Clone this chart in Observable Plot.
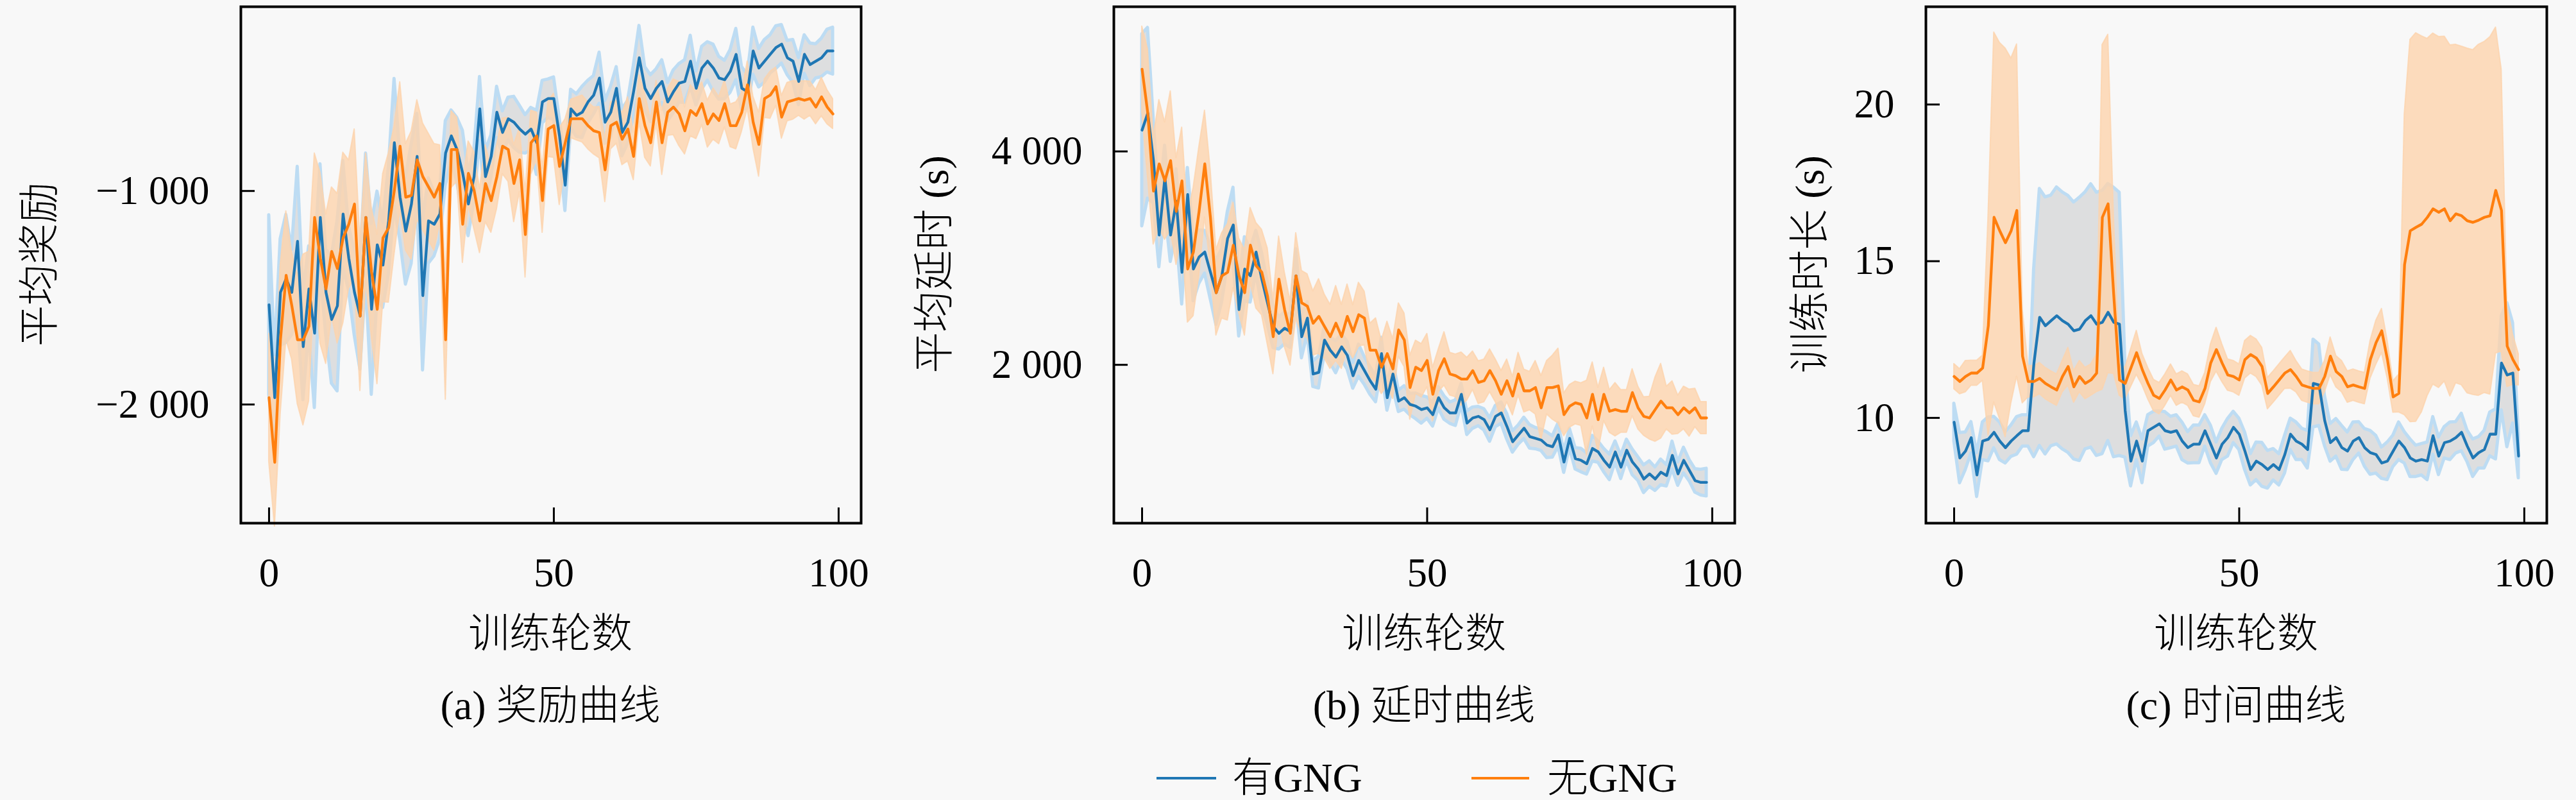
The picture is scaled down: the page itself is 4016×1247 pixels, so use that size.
<!DOCTYPE html>
<html>
<head>
<meta charset="utf-8">
<script src="https://cdn.jsdelivr.net/npm/d3@7"></script>
<script src="https://cdn.jsdelivr.net/npm/@observablehq/plot@0.6"></script>
<style>
  html, body { margin: 0; padding: 0; background: #f8f8f8; }
  #fig { position: relative; width: 4016px; height: 1247px; background: #f8f8f8; overflow: hidden;
         font-family: "Liberation Serif", "Noto Sans CJK SC", serif; color: #000; }
  .panel { position: absolute; top: 0; }
  .txt { position: absolute; white-space: nowrap; font-size: 64px; line-height: 1; font-weight: 300; }
  .c { transform: translate(-50%, -50%); }
  .rot { transform: translate(-50%, -50%) rotate(-90deg); }
  .l { transform: translateY(-50%); }
  .sw { position: absolute; height: 4px; }
</style>
</head>
<body>
<div id="fig"></div>
<script>
// ---------- data ----------
const episodes = d3.range(100);
const seriesNames = ["有GNG", "无GNG"];
const seriesColors = ["#1f77b4", "#ff7f0e"];
const xTicks = [0, 50, 100];
const xLabel = "训练轮数";
const yLabels = ["平均奖励", "平均延时 (s)", "训练时长 (s)"];
const captions = ["(a) 奖励曲线", "(b) 延时曲线", "(c) 时间曲线"];

// (a) reward
const rewardWith = [
-1533,-1968,-1475,-1411,-1475,-1236,-1729,-1459,-1666,-1124,
-1475,-1602,-1538,-1108,-1315,-1475,-1586,-1124,-1554,-1252,
-1347,-1140,-774,-1029,-1188,-1061,-838,-1490,-1140,-1156,
-1108,-822,-742,-806,-917,-1061,-933,-615,-933,-838,
-631,-726,-662,-678,-710,-734,-710,-774,-583,-567,
-567,-742,-973,-615,-646,-631,-583,-551,-471,-678,
-631,-519,-726,-678,-535,-376,-519,-567,-519,-487,
-583,-535,-495,-487,-392,-519,-424,-392,-424,-471,
-479,-439,-360,-519,-535,-344,-424,-392,-360,-328,
-312,-376,-392,-487,-360,-408,-392,-376,-344,-344];
const rewardWithSpread = [
420,200,250,300,200,350,250,200,350,250,
200,300,400,250,150,200,250,300,400,250,
200,250,300,200,250,280,200,350,200,150,
120,150,120,150,200,150,120,150,120,100,
120,100,100,120,110,90,100,150,100,90,
100,80,120,90,100,120,100,90,120,100,
120,100,110,100,120,150,100,110,90,100,
90,100,90,100,120,80,100,90,110,100,
90,100,120,100,80,110,90,100,90,100,
90,80,100,110,90,100,80,90,100,110];
const rewardWithout = [
-1968,-2271,-1697,-1395,-1538,-1697,-1697,-1634,-1124,-1315,
-1459,-1283,-1363,-1220,-1156,-1061,-1586,-1124,-1379,-1554,
-1220,-1172,-997,-790,-1029,-1021,-854,-933,-981,-1029,
-965,-1697,-806,-806,-1156,-917,-997,-1140,-965,-1045,
-933,-790,-806,-965,-854,-1204,-774,-742,-1045,-710,
-694,-885,-774,-662,-662,-662,-694,-718,-726,-901,
-694,-678,-758,-710,-838,-567,-694,-774,-583,-774,
-631,-607,-639,-718,-623,-646,-591,-686,-639,-670,
-591,-694,-694,-631,-503,-678,-782,-567,-551,-511,
-654,-583,-575,-567,-575,-567,-607,-559,-607,-639];
const rewardWithoutSpread = [
300,300,350,300,250,300,400,350,300,400,
350,300,350,400,300,350,350,300,300,350,
300,350,300,300,250,300,280,250,250,250,
180,280,180,150,180,150,180,150,180,150,
150,130,150,180,150,200,150,110,150,130,
150,180,110,90,100,110,110,110,120,150,
110,100,120,150,110,110,150,110,100,150,
110,130,150,110,120,110,100,110,120,110,
110,100,110,90,110,120,150,90,110,90,
100,90,90,80,90,80,80,90,80,70];

// (b) latency
const latencyWith = [
4200,4359,3914,3216,3756,3216,3533,2867,3597,2898,
3010,3057,2867,2676,2835,3184,3311,2517,2898,2835,
3057,2803,2581,2359,2295,2343,2311,2835,2263,2438,
1914,1930,2232,2137,2073,2168,2089,1898,2041,1946,
1851,1771,2105,1692,1914,1660,1692,1629,1613,1581,
1597,1533,1692,1597,1549,1549,1724,1454,1502,1517,
1486,1391,1517,1549,1422,1279,1343,1406,1327,1311,
1295,1248,1232,1343,1089,1311,1121,1105,1073,1216,
1184,1105,1041,1184,1041,1200,1089,1025,930,978,
930,994,962,1152,978,1105,1010,914,898,898];
const latencyWithSpread = [
900,800,400,300,300,250,300,300,250,300,
250,200,250,300,250,250,350,250,300,250,
200,250,200,200,150,150,150,250,200,150,
120,150,130,120,150,120,130,120,150,130,
130,120,150,120,130,100,110,100,120,130,
100,110,100,110,100,120,100,110,100,90,
100,110,100,100,120,100,90,100,110,100,
100,120,100,110,100,90,100,110,100,120,
100,110,120,100,110,100,120,110,130,120,
110,120,100,130,110,120,100,110,120,130];
const latencyWithout = [
4771,4359,3629,3883,3724,3914,3438,3724,2898,3057,
3438,3883,3375,2676,2835,2867,3121,2835,2676,3121,
2930,2867,2644,2264,2803,2517,2295,2835,2581,2549,
2390,2454,2359,2264,2390,2264,2454,2311,2470,2438,
2137,2137,1978,2105,1962,2327,2232,1787,1978,1946,
2041,1724,1946,2057,1914,1898,1867,1867,1946,1835,
1851,1946,1851,1724,1851,1708,1914,1756,1756,1787,
1597,1787,1787,1803,1533,1613,1644,1629,1502,1724,
1486,1724,1565,1581,1565,1565,1740,1597,1517,1502,
1581,1660,1597,1597,1533,1597,1549,1597,1502,1502];
const latencyWithoutSpread = [
400,600,500,600,550,650,500,500,500,600,
600,500,450,400,400,450,400,350,400,350,
400,400,450,350,400,350,300,400,300,300,
300,350,300,300,350,300,300,250,300,250,
250,300,250,300,280,250,250,300,250,250,
250,250,200,250,200,200,250,200,180,200,
200,200,200,220,200,180,200,200,180,250,
300,250,300,350,200,200,200,200,350,300,
300,250,200,250,200,200,220,200,180,200,
300,350,200,250,180,200,220,180,150,150];

// (c) training time
const timeWith = [
9.86,8.72,8.94,9.37,8.18,9.26,9.32,9.54,9.26,9.05,
9.26,9.43,9.59,9.59,11.75,13.21,12.94,13.10,13.26,13.10,
12.99,12.78,12.83,13.10,13.26,12.99,13.05,13.37,13.05,12.99,
10.24,8.62,9.26,8.62,9.59,9.70,9.81,9.59,9.54,9.59,
9.26,9.05,9.16,9.16,9.59,9.16,8.72,9.16,9.37,9.70,
9.48,8.94,8.35,8.62,8.51,8.35,8.51,8.35,8.83,9.48,
9.26,9.16,8.99,11.10,11.05,9.91,9.21,9.37,9.05,8.94,
9.26,9.37,9.05,8.89,8.83,8.56,8.62,8.94,9.26,9.05,
8.72,8.62,8.67,8.62,9.43,8.78,9.21,9.26,9.37,9.54,
9.10,8.72,8.89,8.99,9.48,9.48,11.75,11.37,11.43,8.78];
const timeWithSpread = [
0.6,0.8,0.6,0.5,0.7,0.6,0.7,0.5,0.6,0.5,
0.5,0.6,0.5,0.5,3.0,4.1,4.1,4.0,4.1,4.1,
4.1,4.1,4.2,4.1,4.2,4.2,4.2,4.1,4.3,4.2,
1.5,0.8,0.6,0.7,0.5,0.5,0.4,0.6,0.5,0.5,
0.6,0.5,0.6,0.6,0.5,0.6,0.5,0.5,0.6,0.5,
0.5,0.6,0.5,0.6,0.7,0.6,0.5,0.5,0.6,0.5,
0.6,0.5,0.6,1.4,1.3,0.8,0.6,0.6,0.7,0.6,
0.6,0.5,0.6,0.7,0.6,0.5,0.6,0.5,0.6,0.5,
0.6,0.5,0.5,0.6,0.6,0.6,0.5,0.6,0.5,0.6,
0.5,0.6,0.5,0.6,0.7,0.8,1.5,2.3,1.6,0.7];
const timeWithout = [
11.32,11.16,11.32,11.43,11.43,11.59,12.94,16.40,15.97,15.59,
15.97,16.62,11.97,11.16,11.16,11.26,11.10,10.99,10.89,11.32,
11.64,10.99,11.32,11.10,11.21,11.43,16.40,16.83,13.91,11.21,
11.10,11.59,12.08,11.54,11.10,10.72,10.62,10.89,11.21,10.89,
10.99,10.89,10.56,10.51,10.94,11.75,12.18,11.75,11.37,11.32,
11.21,11.86,12.02,11.91,11.64,10.78,10.99,11.21,11.43,11.54,
11.32,11.05,10.99,10.94,10.94,11.32,11.97,11.48,11.32,10.99,
11.05,10.99,10.94,11.86,12.40,12.78,11.86,10.67,10.78,14.89,
15.97,16.08,16.18,16.40,16.67,16.56,16.67,16.29,16.51,16.45,
16.29,16.24,16.31,16.40,16.45,17.26,16.62,12.29,11.86,11.54];
const timeWithoutSpread = [
0.4,0.4,0.5,0.4,0.4,0.4,3.5,5.9,6.0,6.2,
5.5,5.3,1.5,0.5,0.5,0.5,0.5,0.5,0.5,0.5,
0.6,0.5,0.5,0.5,0.5,0.6,5.5,5.4,2.5,0.5,
0.5,0.6,0.7,0.5,0.5,0.5,0.5,0.5,0.5,0.5,
0.5,0.5,0.5,0.5,0.5,0.6,0.7,0.6,0.5,0.5,
0.5,0.6,0.6,0.6,0.6,0.5,0.5,0.5,0.5,0.6,
0.5,0.5,0.5,0.5,0.5,0.5,0.6,0.5,0.5,0.5,
0.5,0.5,0.5,0.6,0.7,0.7,0.6,0.5,0.6,4.8,
6.1,6.2,6.0,5.7,5.6,5.6,5.5,5.6,5.4,5.4,
5.5,5.5,5.6,5.6,5.7,5.2,4.5,1.3,0.8,0.5];

const yTicksA = [-2000, -1000];
const yTicksB = [2000, 4000];
const yTicksC = [10, 15, 20];

// ---------- drawing ----------
const fig = document.getElementById("fig");
const fmtK = d => (d < 0 ? "\u2212" : "") + d3.format(",")(Math.abs(d)).replace(/,/g, " ");
const fmtPlain = d => String(d);

function panel({left, width, marginLeft, marginRight, yDomain, yTicks, yFormat, w, ws, wo, wos}) {
  const rows = episodes.map((ep, i) => ({
    ep, w: w[i], wlo: w[i] - ws[i], whi: w[i] + ws[i],
    o: wo[i], olo: wo[i] - wos[i], ohi: wo[i] + wos[i]
  }));
  const svg = Plot.plot({
    width, height: 960,
    marginLeft, marginRight, marginTop: 10, marginBottom: 145,
    style: {background: "transparent", fontFamily: "'Liberation Serif', serif", fontSize: "63px", color: "#000", overflow: "visible"},
    x: {domain: [-4.95, 103.95]},
    y: {domain: yDomain},
    marks: [
      Plot.areaY(rows, {x: "ep", y1: "wlo", y2: "whi", fill: "#dddedf", stroke: "#bddcf3", strokeWidth: 5, strokeLinejoin: "round"}),
      Plot.areaY(rows, {x: "ep", y1: "olo", y2: "ohi", fill: "#fdd3ad", fillOpacity: 0.8, stroke: "#fdd3ad", strokeOpacity: 0.8, strokeWidth: 2}),
      Plot.lineY(rows, {x: "ep", y: "w", stroke: seriesColors[0], strokeWidth: 4.3}),
      Plot.lineY(rows, {x: "ep", y: "o", stroke: seriesColors[1], strokeWidth: 4.3}),
      Plot.frame({stroke: "#000", strokeWidth: 4}),
      Plot.axisX({ticks: xTicks, tickSize: -24, tickPadding: 78, strokeWidth: 3, label: null, tickFormat: fmtPlain}),
      Plot.axisY({ticks: yTicks, tickSize: -22, tickPadding: 71, strokeWidth: 3, label: null, tickFormat: yFormat})
    ]
  });
  svg.classList.add("panel");
  svg.style.left = left + "px";
  fig.appendChild(svg);
}

panel({left: 0, width: 1400, marginLeft: 375, marginRight: 58, yDomain: [-2556, -137], yTicks: yTicksA, yFormat: fmtK,
       w: rewardWith, ws: rewardWithSpread, wo: rewardWithout, wos: rewardWithoutSpread});
panel({left: 1400, width: 1330, marginLeft: 336, marginRight: 26, yDomain: [516, 5356], yTicks: yTicksB, yFormat: fmtK,
       w: latencyWith, ws: latencyWithSpread, wo: latencyWithout, wos: latencyWithoutSpread});
panel({left: 2730, width: 1286, marginLeft: 272, marginRight: 46, yDomain: [6.64, 23.12], yTicks: yTicksC, yFormat: fmtPlain,
       w: timeWith, ws: timeWithSpread, wo: timeWithout, wos: timeWithoutSpread});

function addText(text, x, y, cls) {
  const d = document.createElement("div");
  d.className = "txt " + cls;
  d.style.left = x + "px";
  d.style.top = y + "px";
  d.textContent = text;
  fig.appendChild(d);
}
const yLabelX = [62, 1457, 2822];
const frameCenters = [858, 2220, 3486];
yLabels.forEach((t, i) => addText(t, yLabelX[i], 412, "rot"));
frameCenters.forEach((cx, i) => {
  addText(xLabel, cx, 988, "c");
  addText(captions[i], cx, 1100, "c");
});

// legend
const legendItems = [{x1: 1803, x2: 1896, tx: 1921}, {x1: 2294, x2: 2384, tx: 2412}];
legendItems.forEach((it, i) => {
  const s = document.createElement("div");
  s.className = "sw";
  s.style.left = it.x1 + "px";
  s.style.width = (it.x2 - it.x1) + "px";
  s.style.top = (1213 - 2) + "px";
  s.style.background = seriesColors[i];
  fig.appendChild(s);
  addText(seriesNames[i], it.tx, 1213, "l");
});
</script>
</body>
</html>
